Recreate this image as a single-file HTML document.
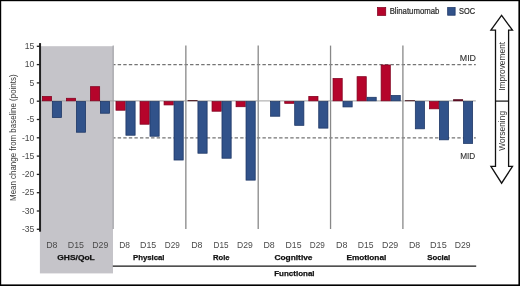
<!DOCTYPE html>
<html><head><meta charset="utf-8"><style>
html,body{margin:0;padding:0;background:#fff;}
svg{display:block;will-change:transform;}
text{font-family:"Liberation Sans",sans-serif;}
.tk{font-size:8.6px;fill:#484848;}
.yt{font-size:9px;fill:#383838;}
.dl{font-size:8.3px;fill:#4a4a4a;}
.bl{font-size:8px;font-weight:bold;fill:#111;stroke:#111;stroke-width:0.25px;}
.mid{font-size:8.3px;fill:#333;stroke:#333;stroke-width:0.12px;}
.lg{font-size:8.4px;fill:#2a2a2a;stroke:#2a2a2a;stroke-width:0.22px;}
.arr{font-size:8.4px;fill:#333;}
</style></head><body>
<svg width="520" height="286" viewBox="0 0 520 286">
<rect x="0" y="0" width="520" height="286" fill="#fff"/>
<rect x="39.9" y="46.2" width="73.10" height="227.20" fill="#c5c4c9"/>
<line x1="113.5" y1="64.60" x2="475.8" y2="64.60" stroke="#747474" stroke-width="1.3" stroke-dasharray="3.4 2.167" stroke-dashoffset="1.37"/>
<line x1="113.5" y1="137.80" x2="475.8" y2="137.80" stroke="#747474" stroke-width="1.3" stroke-dasharray="3.4 2.167" stroke-dashoffset="1.37"/>
<line x1="113.2" y1="45.5" x2="113.2" y2="229" stroke="#9a9a9f" stroke-width="1.1"/>
<line x1="185.85" y1="45.6" x2="185.85" y2="229" stroke="#888888" stroke-width="1.3"/>
<line x1="258.20" y1="45.6" x2="258.20" y2="229" stroke="#888888" stroke-width="1.3"/>
<line x1="330.55" y1="45.6" x2="330.55" y2="229" stroke="#888888" stroke-width="1.3"/>
<line x1="402.90" y1="45.6" x2="402.90" y2="229" stroke="#888888" stroke-width="1.3"/>
<line x1="41" y1="100.90" x2="475.8" y2="100.90" stroke="#a2a2a2" stroke-width="1"/>
<rect x="42.38" y="96.47" width="9.20" height="4.35" fill="#b5042b" stroke="#80001e" stroke-width="0.75"/>
<rect x="52.33" y="101.58" width="9.20" height="15.95" fill="#31528a" stroke="#1b3463" stroke-width="0.75"/>
<rect x="66.42" y="98.28" width="9.20" height="2.55" fill="#b5042b" stroke="#80001e" stroke-width="0.75"/>
<rect x="76.38" y="101.58" width="9.20" height="30.65" fill="#31528a" stroke="#1b3463" stroke-width="0.75"/>
<rect x="90.47" y="86.67" width="9.20" height="14.15" fill="#b5042b" stroke="#80001e" stroke-width="0.75"/>
<rect x="100.42" y="101.58" width="9.20" height="11.65" fill="#31528a" stroke="#1b3463" stroke-width="0.75"/>
<rect x="115.97" y="101.58" width="9.20" height="8.65" fill="#b5042b" stroke="#80001e" stroke-width="0.75"/>
<rect x="125.92" y="101.58" width="9.20" height="33.65" fill="#31528a" stroke="#1b3463" stroke-width="0.75"/>
<rect x="140.03" y="101.58" width="9.20" height="22.65" fill="#b5042b" stroke="#80001e" stroke-width="0.75"/>
<rect x="149.97" y="101.58" width="9.20" height="34.65" fill="#31528a" stroke="#1b3463" stroke-width="0.75"/>
<rect x="164.07" y="101.58" width="9.20" height="3.35" fill="#b5042b" stroke="#80001e" stroke-width="0.75"/>
<rect x="174.02" y="101.58" width="9.20" height="58.45" fill="#31528a" stroke="#1b3463" stroke-width="0.75"/>
<rect x="187.60" y="100.10" width="9.95" height="1.10" fill="#4a1820"/>
<rect x="197.92" y="101.58" width="9.20" height="51.65" fill="#31528a" stroke="#1b3463" stroke-width="0.75"/>
<rect x="212.03" y="101.58" width="9.20" height="9.65" fill="#b5042b" stroke="#80001e" stroke-width="0.75"/>
<rect x="221.97" y="101.58" width="9.20" height="56.65" fill="#31528a" stroke="#1b3463" stroke-width="0.75"/>
<rect x="236.07" y="101.58" width="9.20" height="5.15" fill="#b5042b" stroke="#80001e" stroke-width="0.75"/>
<rect x="246.02" y="101.58" width="9.20" height="78.55" fill="#31528a" stroke="#1b3463" stroke-width="0.75"/>
<rect x="270.62" y="101.58" width="9.20" height="14.65" fill="#31528a" stroke="#1b3463" stroke-width="0.75"/>
<rect x="284.73" y="101.58" width="9.20" height="1.75" fill="#b5042b" stroke="#80001e" stroke-width="0.75"/>
<rect x="294.68" y="101.58" width="9.20" height="23.75" fill="#31528a" stroke="#1b3463" stroke-width="0.75"/>
<rect x="308.78" y="96.38" width="9.20" height="4.45" fill="#b5042b" stroke="#80001e" stroke-width="0.75"/>
<rect x="318.73" y="101.58" width="9.20" height="26.55" fill="#31528a" stroke="#1b3463" stroke-width="0.75"/>
<rect x="333.02" y="78.47" width="9.20" height="22.35" fill="#b5042b" stroke="#80001e" stroke-width="0.75"/>
<rect x="342.97" y="101.58" width="9.20" height="5.35" fill="#31528a" stroke="#1b3463" stroke-width="0.75"/>
<rect x="357.07" y="76.67" width="9.20" height="24.15" fill="#b5042b" stroke="#80001e" stroke-width="0.75"/>
<rect x="367.02" y="97.28" width="9.20" height="3.55" fill="#31528a" stroke="#1b3463" stroke-width="0.75"/>
<rect x="381.12" y="64.97" width="9.20" height="35.85" fill="#b5042b" stroke="#80001e" stroke-width="0.75"/>
<rect x="391.07" y="95.47" width="9.20" height="5.35" fill="#31528a" stroke="#1b3463" stroke-width="0.75"/>
<rect x="405.00" y="100.20" width="9.95" height="1.00" fill="#4a1820"/>
<rect x="415.32" y="101.58" width="9.20" height="27.25" fill="#31528a" stroke="#1b3463" stroke-width="0.75"/>
<rect x="429.43" y="101.58" width="9.20" height="7.25" fill="#b5042b" stroke="#80001e" stroke-width="0.75"/>
<rect x="439.38" y="101.58" width="9.20" height="38.25" fill="#31528a" stroke="#1b3463" stroke-width="0.75"/>
<rect x="453.10" y="99.20" width="9.95" height="2.00" fill="#5a0c22"/>
<rect x="463.43" y="101.58" width="9.20" height="41.85" fill="#31528a" stroke="#1b3463" stroke-width="0.75"/>
<line x1="40.05" y1="43.1" x2="40.05" y2="231.7" stroke="#222" stroke-width="2"/>
<line x1="36.8" y1="46.30" x2="40" y2="46.30" stroke="#222" stroke-width="1.3"/>
<text x="34.4" y="49.05" class="tk" text-anchor="end">15</text>
<line x1="36.8" y1="64.60" x2="40" y2="64.60" stroke="#222" stroke-width="1.3"/>
<text x="34.4" y="67.35" class="tk" text-anchor="end">10</text>
<line x1="36.8" y1="82.90" x2="40" y2="82.90" stroke="#222" stroke-width="1.3"/>
<text x="34.4" y="85.65" class="tk" text-anchor="end">5</text>
<line x1="36.8" y1="101.20" x2="40" y2="101.20" stroke="#222" stroke-width="1.3"/>
<text x="34.4" y="103.95" class="tk" text-anchor="end">0</text>
<line x1="36.8" y1="119.50" x2="40" y2="119.50" stroke="#222" stroke-width="1.3"/>
<text x="34.4" y="122.25" class="tk" text-anchor="end">-5</text>
<line x1="36.8" y1="137.80" x2="40" y2="137.80" stroke="#222" stroke-width="1.3"/>
<text x="34.4" y="140.55" class="tk" text-anchor="end">-10</text>
<line x1="36.8" y1="156.10" x2="40" y2="156.10" stroke="#222" stroke-width="1.3"/>
<text x="34.4" y="158.85" class="tk" text-anchor="end">-15</text>
<line x1="36.8" y1="174.40" x2="40" y2="174.40" stroke="#222" stroke-width="1.3"/>
<text x="34.4" y="177.15" class="tk" text-anchor="end">-20</text>
<line x1="36.8" y1="192.70" x2="40" y2="192.70" stroke="#222" stroke-width="1.3"/>
<text x="34.4" y="195.45" class="tk" text-anchor="end">-25</text>
<line x1="36.8" y1="211.00" x2="40" y2="211.00" stroke="#222" stroke-width="1.3"/>
<text x="34.4" y="213.75" class="tk" text-anchor="end">-30</text>
<line x1="36.8" y1="229.30" x2="40" y2="229.30" stroke="#222" stroke-width="1.3"/>
<text x="34.4" y="232.05" class="tk" text-anchor="end">-35</text>
<text transform="translate(15.6,137.7) rotate(-90)" class="yt" text-anchor="middle" textLength="126.5" lengthAdjust="spacingAndGlyphs">Mean change from baseline (points)</text>
<text x="389.66" y="14.10" class="lg" textLength="49.68" lengthAdjust="spacingAndGlyphs">Blinatumomab</text>
<text x="458.98" y="14.10" class="lg" textLength="16.08" lengthAdjust="spacingAndGlyphs">SOC</text>
<text x="459.76" y="60.70" class="mid" textLength="16.26" lengthAdjust="spacingAndGlyphs">MID</text>
<text x="460.22" y="159.10" class="mid" textLength="15.08" lengthAdjust="spacingAndGlyphs">MID</text>
<text x="46.26" y="248.20" class="dl" textLength="11.26" lengthAdjust="spacingAndGlyphs">D8</text>
<text x="67.76" y="248.20" class="dl" textLength="16.22" lengthAdjust="spacingAndGlyphs">D15</text>
<text x="92.24" y="248.20" class="dl" textLength="16.02" lengthAdjust="spacingAndGlyphs">D29</text>
<text x="119.22" y="248.20" class="dl" textLength="10.78" lengthAdjust="spacingAndGlyphs">D8</text>
<text x="140.02" y="248.20" class="dl" textLength="16.24" lengthAdjust="spacingAndGlyphs">D15</text>
<text x="164.76" y="248.20" class="dl" textLength="15.04" lengthAdjust="spacingAndGlyphs">D29</text>
<text x="191.24" y="248.20" class="dl" textLength="11.28" lengthAdjust="spacingAndGlyphs">D8</text>
<text x="213.48" y="248.20" class="dl" textLength="15.06" lengthAdjust="spacingAndGlyphs">D15</text>
<text x="237.02" y="248.20" class="dl" textLength="15.76" lengthAdjust="spacingAndGlyphs">D29</text>
<text x="263.50" y="248.20" class="dl" textLength="11.28" lengthAdjust="spacingAndGlyphs">D8</text>
<text x="285.50" y="248.20" class="dl" textLength="16.00" lengthAdjust="spacingAndGlyphs">D15</text>
<text x="309.76" y="248.20" class="dl" textLength="15.04" lengthAdjust="spacingAndGlyphs">D29</text>
<text x="336.02" y="248.20" class="dl" textLength="11.48" lengthAdjust="spacingAndGlyphs">D8</text>
<text x="357.76" y="248.20" class="dl" textLength="15.78" lengthAdjust="spacingAndGlyphs">D15</text>
<text x="382.02" y="248.20" class="dl" textLength="16.24" lengthAdjust="spacingAndGlyphs">D29</text>
<text x="409.00" y="248.20" class="dl" textLength="11.26" lengthAdjust="spacingAndGlyphs">D8</text>
<text x="430.02" y="248.20" class="dl" textLength="16.74" lengthAdjust="spacingAndGlyphs">D15</text>
<text x="454.76" y="248.20" class="dl" textLength="15.78" lengthAdjust="spacingAndGlyphs">D29</text>
<text x="57.22" y="260.30" class="bl" textLength="37.56" lengthAdjust="spacingAndGlyphs">GHS/QoL</text>
<text x="132.98" y="260.30" class="bl" textLength="31.54" lengthAdjust="spacingAndGlyphs">Physical</text>
<text x="212.96" y="260.30" class="bl" textLength="16.58" lengthAdjust="spacingAndGlyphs">Role</text>
<text x="274.48" y="260.30" class="bl" textLength="38.04" lengthAdjust="spacingAndGlyphs">Cognitive</text>
<text x="346.48" y="260.30" class="bl" textLength="39.80" lengthAdjust="spacingAndGlyphs">Emotional</text>
<text x="427.22" y="260.30" class="bl" textLength="23.06" lengthAdjust="spacingAndGlyphs">Social</text>
<text x="274.24" y="276.20" class="bl" textLength="40.32" lengthAdjust="spacingAndGlyphs">Functional</text>
<line x1="112.8" y1="266.05" x2="476.2" y2="266.05" stroke="#161616" stroke-width="1.35"/>
<rect x="377.575" y="7.575" width="8.15" height="7.85" fill="#b5042b" stroke="#80001e" stroke-width="0.75"/>
<rect x="447.675" y="7.575" width="7.449999999999999" height="7.65" fill="#31528a" stroke="#1b3463" stroke-width="0.75"/>
<path d="M501.6 15.3 L512.5 30.2 L508.6 30.2 L508.6 166.3 L512.5 166.3 L501.6 183.2 L490.9 166.3 L495.5 166.3 L495.5 30.2 L490.9 30.2 Z" fill="#fff" stroke="#111" stroke-width="1.3" stroke-linejoin="miter"/>
<line x1="495.4" y1="101.1" x2="508.6" y2="101.1" stroke="#111" stroke-width="1.2"/>
<text transform="translate(504.8,66.3) rotate(-90)" class="arr" text-anchor="middle">Improvement</text>
<text transform="translate(504.8,130.9) rotate(-90)" class="arr" text-anchor="middle">Worsening</text>
<rect x="0" y="0" width="520" height="1.2" fill="#000"/>
<rect x="0" y="0" width="1.2" height="286" fill="#000"/>
<rect x="518.4" y="0" width="1.6" height="286" fill="#000"/>
<rect x="0" y="284.4" width="520" height="1.6" fill="#000"/>
</svg>
</body></html>
